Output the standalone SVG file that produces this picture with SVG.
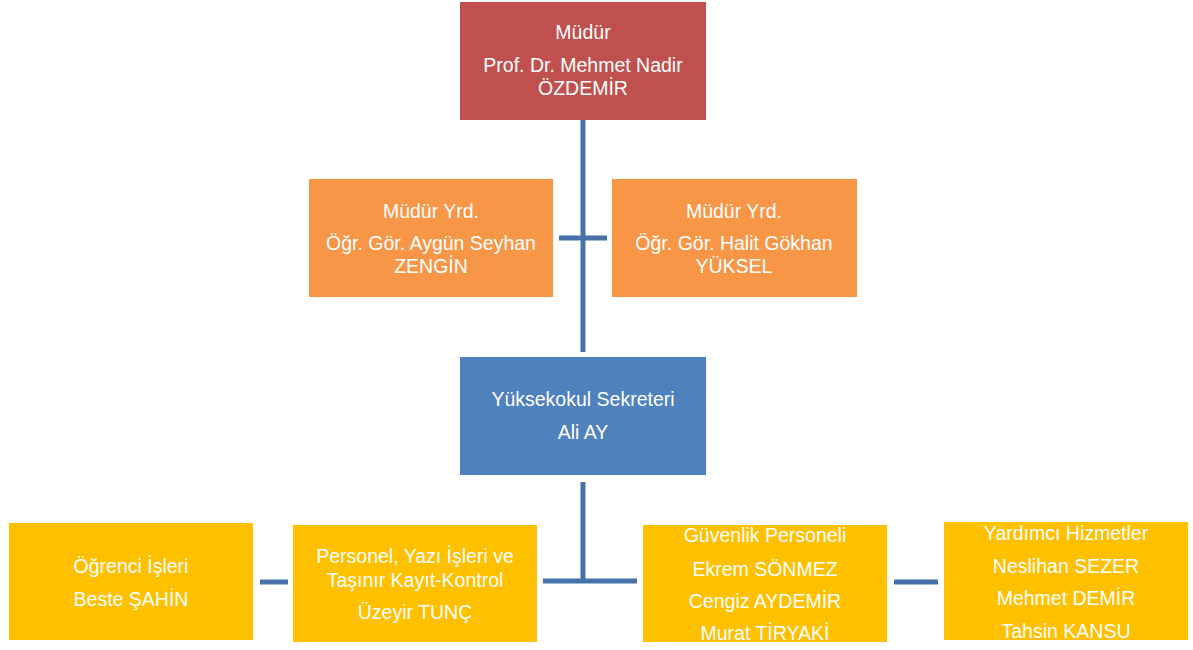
<svg xmlns="http://www.w3.org/2000/svg" width="1193" height="650" viewBox="0 0 1193 650">
<style>
.t{font-family:"Liberation Sans",Arial,sans-serif;font-size:19.5px;fill:#fff;text-anchor:middle}
.red{fill:#C0504D}
.org{fill:#F79646}
.blu{fill:#4F81BD}
.yel{fill:#FFC000}
.c{stroke:#4672A8;stroke-width:5;fill:none}
</style>
<rect width="1193" height="650" fill="#fff"/>
<g id="connectors">
<line class="c" x1="583" y1="120" x2="583" y2="352"/>
<line class="c" x1="559" y1="238" x2="607" y2="238"/>
<line class="c" x1="583" y1="482" x2="583" y2="581"/>
<line class="c" x1="543" y1="581" x2="637" y2="581"/>
<line class="c" x1="260" y1="582" x2="288" y2="582"/>
<line class="c" x1="894" y1="582" x2="938" y2="582"/>
</g>
<g id="mudur">
<rect class="red" x="460" y="2" width="246" height="118"/>
<text class="t" x="583" y="39">Müdür</text>
<text class="t" x="583" y="72">Prof. Dr. Mehmet Nadir</text>
<text class="t" x="583" y="95">ÖZDEMİR</text>
</g>
<g id="yrd1">
<rect class="org" x="309" y="179" width="244" height="118"/>
<text class="t" x="431" y="218">Müdür Yrd.</text>
<text class="t" x="431" y="250">Öğr. Gör. Aygün Seyhan</text>
<text class="t" x="431" y="273">ZENGİN</text>
</g>
<g id="yrd2">
<rect class="org" x="612" y="179" width="245" height="118"/>
<text class="t" x="734" y="218">Müdür Yrd.</text>
<text class="t" x="734" y="250">Öğr. Gör. Halit Gökhan</text>
<text class="t" x="734" y="273">YÜKSEL</text>
</g>
<g id="sekreter">
<rect class="blu" x="460" y="357" width="246" height="118"/>
<text class="t" x="583" y="406">Yüksekokul Sekreteri</text>
<text class="t" x="583" y="439">Ali AY</text>
</g>
<g id="ogrenci">
<rect class="yel" x="9" y="523" width="244" height="117"/>
<text class="t" x="131" y="573">Öğrenci İşleri</text>
<text class="t" x="131" y="606">Beste ŞAHİN</text>
</g>
<g id="personel">
<rect class="yel" x="293" y="525" width="244" height="117"/>
<text class="t" x="415" y="563">Personel, Yazı İşleri ve</text>
<text class="t" x="415" y="587">Taşınır Kayıt-Kontrol</text>
<text class="t" x="415" y="619">Üzeyir TUNÇ</text>
</g>
<g id="guvenlik">
<rect class="yel" x="643" y="525" width="244" height="117"/>
<text class="t" x="765" y="542">Güvenlik Personeli</text>
<text class="t" x="765" y="576">Ekrem SÖNMEZ</text>
<text class="t" x="765" y="608">Cengiz AYDEMİR</text>
<text class="t" x="765" y="640">Murat TİRYAKİ</text>
</g>
<g id="yardimci">
<rect class="yel" x="944" y="522" width="244" height="118"/>
<text class="t" x="1066" y="540">Yardımcı Hizmetler</text>
<text class="t" x="1066" y="573">Neslihan SEZER</text>
<text class="t" x="1066" y="605">Mehmet DEMİR</text>
<text class="t" x="1066" y="638">Tahsin KANSU</text>
</g>
</svg>
